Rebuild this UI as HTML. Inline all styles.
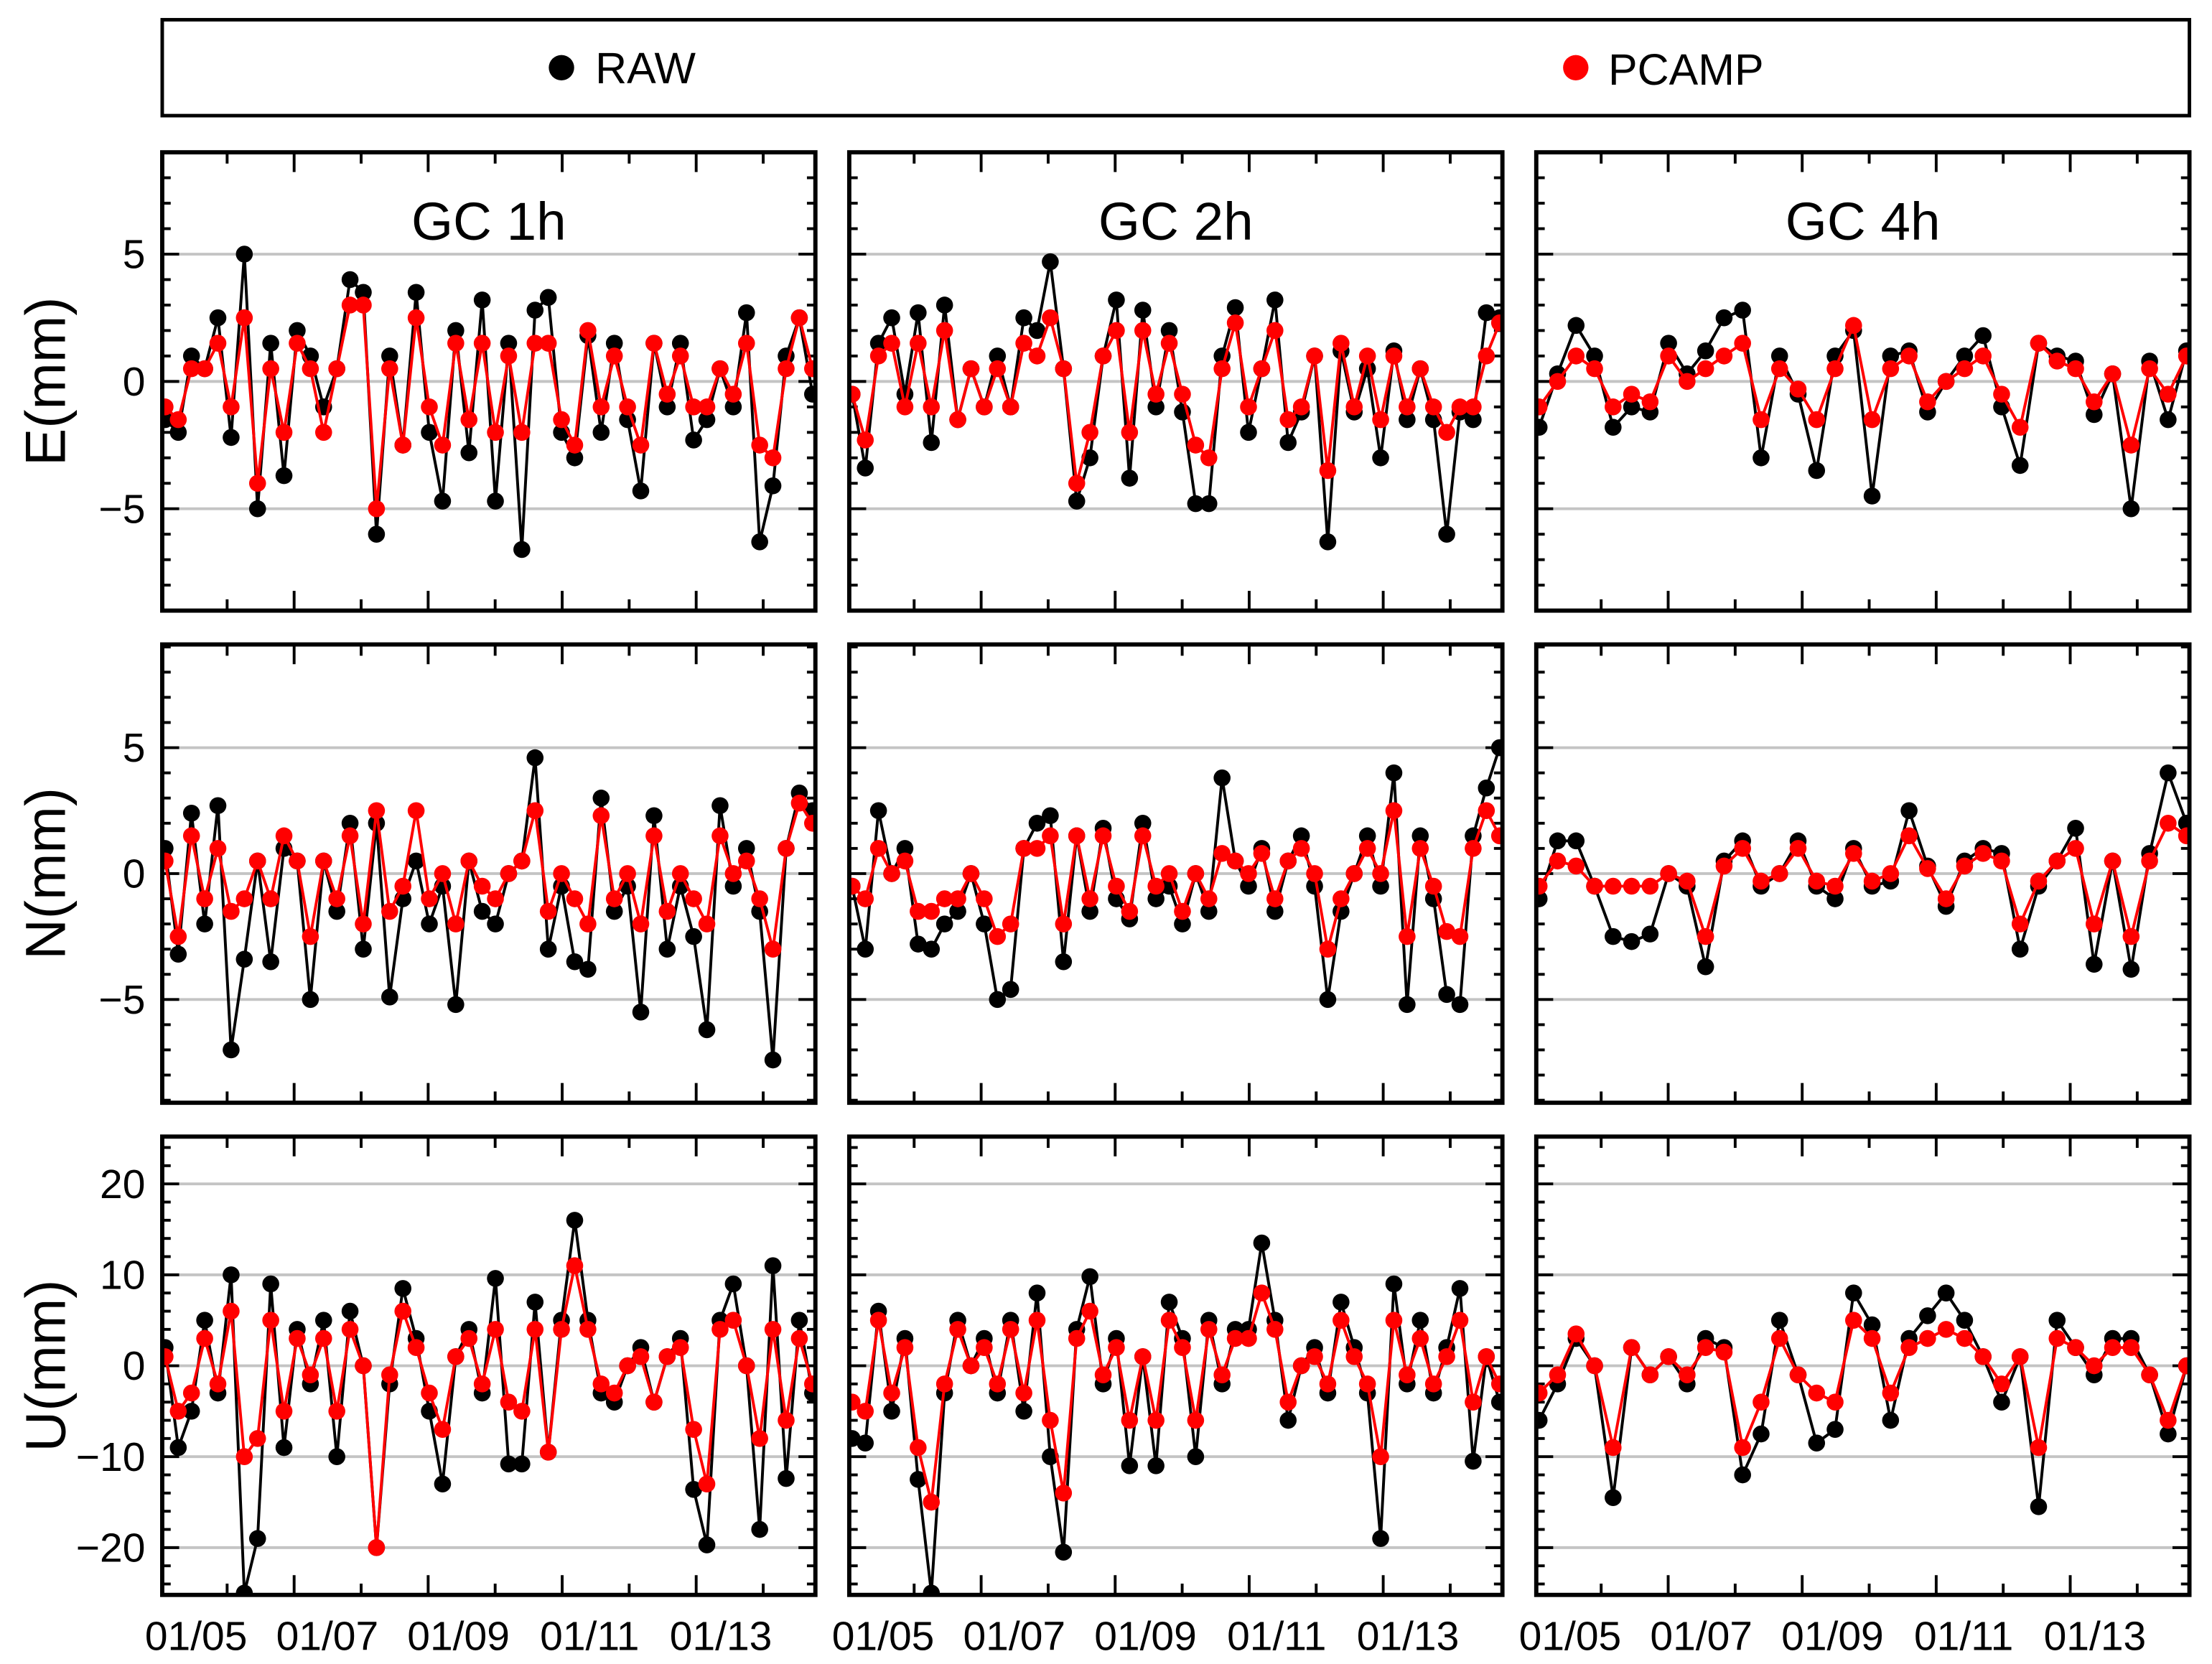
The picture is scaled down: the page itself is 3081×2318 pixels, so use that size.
<!DOCTYPE html>
<html><head><meta charset="utf-8">
<style>
html,body{margin:0;padding:0;background:#fff;}
svg{display:block;}
text{font-family:"Liberation Sans",sans-serif;fill:#000;}
</style></head>
<body>
<svg id="chart" xmlns="http://www.w3.org/2000/svg" width="3081" height="2318" viewBox="0 0 1568 1180" preserveAspectRatio="none">
<rect x="0" y="0" width="1568" height="1180" fill="#fff"/>
<g>
<rect x="115" y="14" width="1437" height="68" fill="none" stroke="#000" stroke-width="2.5"/>
<g><circle cx="398" cy="48" r="9" fill="#000"/><text x="422" y="59" font-size="31">RAW</text></g>
<g><circle cx="1117" cy="48" r="9" fill="#f00"/><text x="1140" y="60" font-size="31">PCAMP</text></g>
</g>
<g id="plots"></g>
</svg>
<script>
const colTitles = ["GC 1h","GC 2h","GC 4h"];
const rowTitles = ["E(mm)","N(mm)","U(mm)"];
const rowRanges = [[-9,9],[-9.1,9.1],[-25.2,25.2]];
const rowMajorTicks = [[-5,0,5],[-5,0,5],[-20,-10,0,10,20]];
const rowTickLabels = [["\u22125","0","5"],["\u22125","0","5"],["\u221220","\u221210","0","10","20"]];
const rowMinorStep = [1,1,2];
const dateLabels = ["01/05","01/07","01/09","01/11","01/13"];
const dateDays = [5,7,9,11,13];

const rawE1 = [-1.5,-2,1,0.5,2.5,-2.2,5,-5,1.5,-3.7,2,1,-1,0.5,4,3.5,-6,1,-2.5,3.5,-2,-4.7,2,-2.8,3.2,-4.7,1.5,-6.6,2.8,3.3,-2,-3,1.8,-2,1.5,-1.5,-4.3,1.5,-1,1.5,-2.3,-1.5,0.5,-1,2.7,-6.3,-4.1,1,2.5,-0.5];
const pcE1 = [-1,-1.5,0.5,0.5,1.5,-1,2.5,-4,0.5,-2,1.5,0.5,-2,0.5,3,3,-5,0.5,-2.5,2.5,-1,-2.5,1.5,-1.5,1.5,-2,1,-2,1.5,1.5,-1.5,-2.5,2,-1,1,-1,-2.5,1.5,-0.5,1,-1,-1,0.5,-0.5,1.5,-2.5,-3,0.5,2.5,0.5];
const rawE2 = [-0.5,-3.4,1.5,2.5,-0.5,2.7,-2.4,3,-1.5,0.5,-1,1,-1,2.5,2,4.7,0.5,-4.7,-3,1,3.2,-3.8,2.8,-1,2,-1.2,-4.8,-4.8,1,2.9,-2,0.5,3.2,-2.4,-1.2,1,-6.3,1.2,-1.2,0.5,-3,1.2,-1.5,0.5,-1.5,-6,-1.2,-1.5,2.7,2.5];
const pcE2 = [-0.5,-2.3,1,1.5,-1,1.5,-1,2,-1.5,0.5,-1,0.5,-1,1.5,1,2.5,0.5,-4,-2,1,2,-2,2,-0.5,1.5,-0.5,-2.5,-3,0.5,2.3,-1,0.5,2,-1.5,-1,1,-3.5,1.5,-1,1,-1.5,1,-1,0.5,-1,-2,-1,-1,1,2.3];
const rawE4 = [-1.8,0.3,2.2,1,-1.8,-1,-1.2,1.5,0.3,1.2,2.5,2.8,-3,1,-0.5,-3.5,1,2,-4.5,1,1.2,-1.2,0,1,1.8,-1,-3.3,1.5,1,0.8,-1.3,0.3,-5,0.8,-1.5,1.2];
const pcE4 = [-1,0,1,0.5,-1,-0.5,-0.8,1,0,0.5,1,1.5,-1.5,0.5,-0.3,-1.5,0.5,2.2,-1.5,0.5,1,-0.8,0,0.5,1,-0.5,-1.8,1.5,0.8,0.5,-0.8,0.3,-2.5,0.5,-0.5,1];
const rawN1 = [1,-3.2,2.4,-2,2.7,-7,-3.4,0.5,-3.5,1,0.5,-5,0.5,-1.5,2,-3,2,-4.9,-1,0.5,-2,-0.5,-5.2,0.5,-1.5,-2,0,0.5,4.6,-3,-0.5,-3.5,-3.8,3,-1.5,-0.5,-5.5,2.3,-3,-0.5,-2.5,-6.2,2.7,-0.5,1,-1.5,-7.4,1,3.2,2.5];
const pcN1 = [0.5,-2.5,1.5,-1,1,-1.5,-1,0.5,-1,1.5,0.5,-2.5,0.5,-1,1.5,-2,2.5,-1.5,-0.5,2.5,-1,0,-2,0.5,-0.5,-1,0,0.5,2.5,-1.5,0,-1,-2,2.3,-1,0,-2,1.5,-1.5,0,-1,-2,1.5,0,0.5,-1,-3,1,2.8,2];
const rawN2 = [-0.5,-3,2.5,0,1,-2.8,-3,-2,-1.5,0,-2,-5,-4.6,1,2,2.3,-3.5,1.5,-1.5,1.8,-1,-1.8,2,-1,-0.5,-2,0,-1.5,3.8,0.5,-0.5,1,-1.5,0.5,1.5,-0.5,-5,-1.5,0,1.5,-0.5,4,-5.2,1.5,-1,-4.8,-5.2,1.5,3.4,5];
const pcN2 = [-0.5,-1,1,0,0.5,-1.5,-1.5,-1,-1,0,-1,-2.5,-2,1,1,1.5,-2,1.5,-1,1.5,-0.5,-1.5,1.5,-0.5,0,-1.5,0,-1,0.8,0.5,0,0.8,-1,0.5,1,0,-3,-1,0,1,0,2.5,-2.5,1,-0.5,-2.3,-2.5,1,2.5,1.5];
const rawN4 = [-1,1.3,1.3,-0.5,-2.5,-2.7,-2.4,0,-0.5,-3.7,0.5,1.3,-0.5,0,1.3,-0.5,-1,1,-0.5,-0.3,2.5,0.3,-1.3,0.5,1,0.8,-3,-0.5,0.5,1.8,-3.6,0.5,-3.8,0.8,4,2];
const pcN4 = [-0.5,0.5,0.3,-0.5,-0.5,-0.5,-0.5,0,-0.3,-2.5,0.3,1,-0.3,0,1,-0.3,-0.5,0.8,-0.3,0,1.5,0.2,-1,0.3,0.8,0.5,-2,-0.3,0.5,1,-2,0.5,-2.5,0.5,2,1.5];
const rawU1 = [2,-9,-5,5,-3,10,-25,-19,9,-9,4,-2,5,-10,6,0,-20,-2,8.5,3,-5,-13,1,4,-3,9.6,-10.8,-10.8,7,-9.5,5,16,5,-3,-4,0,2,-4,1,3,-13.6,-19.7,5,9,0,-18,11,-12.4,5,-3];
const pcU1 = [1,-5,-3,3,-2,6,-10,-8,5,-5,3,-1,3,-5,4,0,-20,-1,6,2,-3,-7,1,3,-2,4,-4,-5,4,-9.5,4,11,4,-2,-3,0,1,-4,1,2,-7,-13,4,5,0,-8,4,-6,3,-2];
const rawU2 = [-8,-8.5,6,-5,3,-12.5,-25,-3,5,0,3,-3,5,-5,8,-10,-20.5,4,9.8,-2,3,-11,1,-11,7,3,-10,5,-2,4,4,13.5,5,-6,0,2,-3,7,2,-3,-19,9,-2,5,-3,2,8.5,-10.5,1,-4];
const pcU2 = [-4,-5,5,-3,2,-9,-15,-2,4,0,2,-2,4,-3,5,-6,-14,3,6,-1,2,-6,1,-6,5,2,-6,4,-1,3,3,8,4,-4,0,1,-2,5,1,-2,-10,5,-1,3,-2,1,5,-4,1,-2];
const rawU4 = [-6,-2,3,0,-14.5,2,-1,1,-2,3,2,-12,-7.5,5,-1,-8.5,-7,8,4.5,-6,3,5.5,8,5,1,-4,1,-15.5,5,2,-1,3,3,-1,-7.5,0];
const pcU4 = [-3,-1,3.5,0,-9,2,-1,1,-1,2,1.5,-9,-4,3,-1,-3,-4,5,3,-3,2,3,4,3,1,-2,1,-9,3,2,0,2,2,-1,-6,0];

const rawSeries = [[rawE1,rawE2,rawE4],[rawN1,rawN2,rawN4],[rawU1,rawU2,rawU4]];
const pcSeries = [[pcE1,pcE2,pcE4],[pcN1,pcN2,pcN4],[pcU1,pcU2,pcU4]];

const NS = "http://www.w3.org/2000/svg";
const colX = [115,602,1089], rowY = [108,457,806], PW = 463, PH = 325;
const root = document.getElementById("plots");
function mk(tag, attrs, parent){const e=document.createElementNS(NS,tag);for(const k in attrs)e.setAttribute(k,attrs[k]);parent.appendChild(e);return e;}

for(let r=0;r<3;r++){
  const yt = mk("text",{x:0,y:0,"font-size":40,"text-anchor":"middle",transform:`translate(46,${rowY[r]+PH/2}) rotate(-90)`},root);
  
  
  yt.textContent = rowTitles[r];
  for(let c=0;c<3;c++){
    const x0=colX[c], y0=rowY[r];
    const [lo,hi]=rowRanges[r];
    const yS = v => y0 + PH*(hi-v)/(hi-lo);
    const g = mk("g",{},root);
    
    
    rowMajorTicks[r].forEach(v=>{
      const l=mk("line",{x1:x0,x2:x0+PW,y1:yS(v),y2:yS(v),stroke:"#c4c4c4","stroke-width":2},g);
      
      
    });
    for(let v=Math.ceil(lo/rowMinorStep[r])*rowMinorStep[r]; v<=hi; v+=rowMinorStep[r]){
      const major = rowMajorTicks[r].includes(v);
      const len = major?12:6;
      mk("line",{x1:x0,x2:x0+len,y1:yS(v),y2:yS(v),stroke:"#000","stroke-width":2},g);
      mk("line",{x1:x0+PW,x2:x0+PW-len,y1:yS(v),y2:yS(v),stroke:"#000","stroke-width":2},g);
    }
    const dayX = d => x0 + 24 + 46.5*(d-5);
    for(let k=0;k<10;k++){
      const xx = x0+46+k*47.5;
      if(xx>x0+PW-4) break;
      const len = k%2===1?14:8;
      mk("line",{x1:xx,x2:xx,y1:y0,y2:y0+len,stroke:"#000","stroke-width":2},g);
      mk("line",{x1:xx,x2:xx,y1:y0+PH,y2:y0+PH-len,stroke:"#000","stroke-width":2},g);
    }
    if(c===0){
      rowMajorTicks[r].forEach((v,i)=>{
        const t=mk("text",{x:x0-12,y:yS(v)+10,"font-size":29,"text-anchor":"end"},g);
        
        
        t.textContent=rowTickLabels[r][i];
      });
    }
    if(r===2){
      dateDays.forEach((d,i)=>{
        const t=mk("text",{x:dayX(d),y:1170,"font-size":29,"text-anchor":"middle"},g);
        
        
        t.textContent=dateLabels[i];
      });
    }
    if(r===0){
      const t=mk("text",{x:x0+PW/2,y:170,"font-size":38,"text-anchor":"middle"},g);
      
      
      t.textContent=colTitles[c];
    }
    const clip = mk("clipPath",{id:`cp${r}${c}`},g);
    mk("rect",{x:x0,y:y0,width:PW,height:PH},clip);
    const sg = mk("g",{"clip-path":`url(#cp${r}${c})`},g);
    [[rawSeries[r][c],"#000","raw"],[pcSeries[r][c],"#f00","pcamp"]].forEach(([arr,col,nm])=>{
      const n=arr.length;
      const xS = i => x0+2+i*(PW-4)/(n-1);
      const pts = arr.map((v,i)=>`${xS(i).toFixed(1)},${yS(v).toFixed(1)}`).join(" ");
      const pl = mk("polyline",{points:pts,fill:"none",stroke:col,"stroke-width":2},sg);
      
      
      arr.forEach((v,i)=>{
        const ci = mk("circle",{cx:xS(i),cy:yS(v),r:6,fill:col},sg);
        
        
      });
    });
    const fr = mk("rect",{x:x0,y:y0,width:PW,height:PH,fill:"none",stroke:"#000","stroke-width":3},g);
    
    
  }
}
</script>
</body></html>
